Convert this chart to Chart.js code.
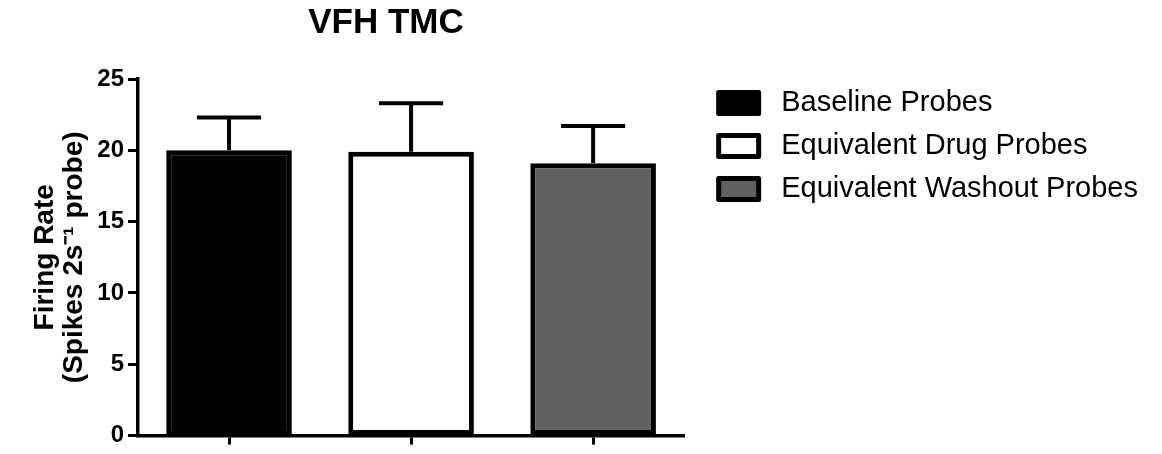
<!DOCTYPE html>
<html>
<head>
<meta charset="utf-8">
<title>VFH TMC</title>
<script src="https://cdn.jsdelivr.net/npm/chart.js@4.4.1/dist/chart.umd.min.js"></script>
<style>
  html, body { margin: 0; padding: 0; background: #fff; }
  #wrap { width: 1162px; height: 454px; }
</style>
</head>
<body>
<div id="wrap"><canvas id="chart" width="1162" height="454"></canvas></div>
<script>
// Mean firing rate per probe condition, with SEM (upper error bar only)
const categories = ['Baseline Probes', 'Equivalent Drug Probes', 'Equivalent Washout Probes'];
const firingRate = [20.0, 19.9, 19.1];
const sem = [2.3, 3.4, 2.6];
const barFills = ['#000000', '#ffffff', '#606060'];
const yTickValues = [0, 5, 10, 15, 20, 25];

const FONT = '"Liberation Sans", Arial, Helvetica, sans-serif';
Chart.defaults.font.family = FONT;
Chart.defaults.color = '#000';

// Upward-only SEM whiskers with a flat cap
const errorBars = {
  id: 'errorBars',
  afterDatasetsDraw(chart, args, opts) {
    const { ctx } = chart;
    const y = chart.scales.y;
    ctx.save();
    ctx.strokeStyle = opts.color;
    ctx.lineWidth = opts.width;
    ctx.lineCap = 'butt';
    chart.data.datasets.forEach((ds, di) => {
      const meta = chart.getDatasetMeta(di);
      meta.data.forEach((bar, i) => {
        const v = ds.data[i];
        const e = ds.errors ? ds.errors[i] : null;
        if (v == null || e == null) return;
        const yBase = y.getPixelForValue(v);
        const yTop = y.getPixelForValue(v + e);
        const half = bar.width * opts.capRatio / 2;
        ctx.beginPath();
        ctx.moveTo(bar.x, yBase);
        ctx.lineTo(bar.x, yTop);
        ctx.moveTo(bar.x - half, yTop);
        ctx.lineTo(bar.x + half, yTop);
        ctx.stroke();
      });
    });
    ctx.restore();
  }
};

// Chart heading, placed over the plot area
const chartHeading = {
  id: 'chartHeading',
  afterDraw(chart, args, o) {
    const { ctx } = chart;
    ctx.save();
    ctx.font = 'bold ' + o.size + 'px ' + FONT;
    ctx.fillStyle = '#000';
    ctx.textAlign = 'center';
    ctx.textBaseline = 'middle';
    ctx.fillText(o.text, o.x, o.y);
    ctx.restore();
  }
};

new Chart(document.getElementById('chart'), {
  type: 'bar',
  data: {
    labels: categories,
    datasets: [{
      label: 'Firing Rate',
      data: firingRate,
      errors: sem,
      backgroundColor: barFills,
      borderColor: '#000',
      borderWidth: 5,
      borderSkipped: false,
      barPercentage: 0.69,
      categoryPercentage: 1.0
    }]
  },
  options: {
    responsive: false,
    animation: false,
    devicePixelRatio: 1,
    layout: { padding: { left: 0, top: 74.5, right: 14, bottom: 4 } },
    scales: {
      x: {
        type: 'category',
        offset: true,
        grid: {
          display: true,
          offset: false,
          drawOnChartArea: false,
          drawTicks: true,
          tickLength: 9,
          tickWidth: 3,
          tickColor: '#000'
        },
        border: { display: true, color: '#000', width: 3.5 },
        ticks: { display: false }
      },
      y: {
        min: 0,
        max: 25,
        afterBuildTicks(scale) {
          scale.ticks = yTickValues.map(v => ({ value: v }));
        },
        afterFit(scale) {
          scale.width = 138;
          // keep the plot top a little below the legend's first row
          scale.paddingTop = 79;
        },
        grid: {
          display: true,
          drawOnChartArea: false,
          drawTicks: true,
          tickLength: 10,
          tickWidth: 3,
          tickColor: '#000'
        },
        border: { display: true, color: '#000', width: 3.5 },
        ticks: {
          padding: 4,
          font: { size: 24, weight: 'bold' },
          color: '#000'
        },
        title: {
          display: true,
          text: ['Firing Rate', '(Spikes 2s\u207B\u00B9 probe)'],
          font: { size: 28, weight: 'bold', lineHeight: 1.036 },
          color: '#000',
          padding: { top: 30.5, bottom: 0 }
        }
      },
      gap: {
        type: 'linear',
        position: 'right',
        display: true,
        grid: { display: false },
        border: { display: false },
        ticks: { display: false },
        afterFit(scale) { scale.width = 20.5; }
      }
    },
    plugins: {
      tooltip: { enabled: false },
      legend: {
        display: true,
        position: 'right',
        align: 'start',
        maxWidth: 480,
        labels: {
          boxWidth: 40,
          boxHeight: 21,
          padding: 14,
          color: '#000',
          font: { size: 29 },
          generateLabels(chart) {
            const ds = chart.data.datasets[0];
            return chart.data.labels.map((label, i) => ({
              text: ' ' + label,
              fillStyle: ds.backgroundColor[i],
              strokeStyle: '#000',
              lineWidth: 5,
              lineJoin: 'round',
              hidden: false,
              index: i,
              datasetIndex: 0
            }));
          }
        }
      },
      errorBars: { color: '#000', width: 4, capRatio: 0.51 },
      chartHeading: { text: 'VFH TMC', size: 35, x: 386, y: 23 }
    }
  },
  plugins: [errorBars, chartHeading]
});
</script>
</body>
</html>
